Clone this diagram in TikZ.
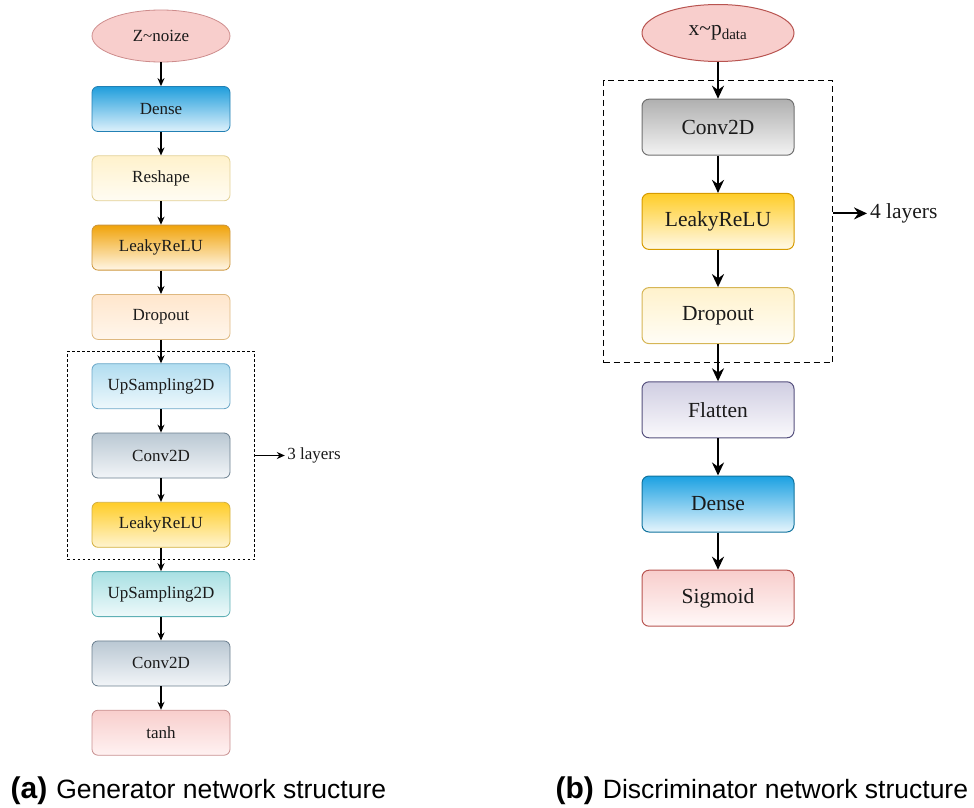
\documentclass[tikz,border=0pt]{standalone}
\usepackage{fontspec}
\setmainfont{Liberation Serif}
\newfontfamily\capfont{Liberation Sans}
\usetikzlibrary{arrows.meta}
\usetikzlibrary{shapes.geometric}
\usetikzlibrary{positioning}
\usetikzlibrary{fit}

\definecolor{txt}{HTML}{1A1A1A}
\definecolor{redfill}{HTML}{F8CECC}
\definecolor{redline}{HTML}{B85450}

\begin{document}
\begin{tikzpicture}[x=1pt,y=1pt,->,>={Stealth[length=8pt,width=7pt]},
line width=1.2pt,text=txt]
\tikzstyle{seed}=[ellipse,fill=redfill,draw=redline,line width=0.8pt,inner sep=0pt]
\tikzstyle{gblk}=[rectangle,rounded corners=6pt,minimum width=138pt,minimum height=45pt,
  inner sep=0pt,line width=0.8pt,font=\fontsize{17}{20}\selectfont]
\tikzstyle{dblk}=[rectangle,rounded corners=7pt,minimum width=152pt,minimum height=56pt,
  inner sep=0pt,line width=1pt,font=\fontsize{21.5}{24}\selectfont]
\tikzstyle{loop}=[draw,dashed,rectangle,inner sep=0pt]
\tikzstyle{dense}=[top color={rgb,255:red,32;green,158;blue,220},bottom color={rgb,255:red,222;green,241;blue,251},draw={rgb,255:red,34;green,128;blue,180}]
\tikzstyle{reshape}=[top color={rgb,255:red,255;green,242;blue,204},bottom color={rgb,255:red,255;green,252;blue,243},draw={rgb,255:red,226;green,208;blue,150}]
\tikzstyle{leakyo}=[top color={rgb,255:red,240;green,163;blue,10},bottom color={rgb,255:red,255;green,246;blue,230},draw={rgb,255:red,205;green,150;blue,60}]
\tikzstyle{dropo}=[top color={rgb,255:red,255;green,230;blue,204},bottom color={rgb,255:red,255;green,246;blue,236},draw={rgb,255:red,222;green,184;blue,128}]
\tikzstyle{upblue}=[top color={rgb,255:red,177;green,221;blue,240},bottom color={rgb,255:red,238;green,248;blue,252},draw={rgb,255:red,108;green,168;blue,200}]
\tikzstyle{convg}=[top color={rgb,255:red,186;green,200;blue,211},bottom color={rgb,255:red,242;green,245;blue,248},draw={rgb,255:red,107;green,127;blue,143}]
\tikzstyle{leakyy}=[top color={rgb,255:red,255;green,205;blue,40},bottom color={rgb,255:red,255;green,244;blue,208},draw={rgb,255:red,212;green,176;blue,64}]
\tikzstyle{upcyan}=[top color={rgb,255:red,168;green,224;blue,227},bottom color={rgb,255:red,238;green,249;blue,250},draw={rgb,255:red,95;green,176;blue,181}]
\tikzstyle{tanhr}=[top color=redfill,bottom color={rgb,255:red,255;green,242;blue,242},draw={rgb,255:red,200;green,144;blue,144}]
\tikzstyle{convk}=[top color={rgb,255:red,176;green,176;blue,176},bottom color={rgb,255:red,243;green,243;blue,243},draw={rgb,255:red,112;green,112;blue,112}]
\tikzstyle{leakyk}=[top color={rgb,255:red,255;green,205;blue,40},bottom color={rgb,255:red,255;green,249;blue,232},draw={rgb,255:red,215;green,155;blue,0}]
\tikzstyle{dropk}=[top color={rgb,255:red,255;green,242;blue,204},bottom color={rgb,255:red,255;green,253;blue,246},draw={rgb,255:red,214;green,182;blue,86}]
\tikzstyle{flatk}=[top color={rgb,255:red,208;green,206;blue,226},bottom color={rgb,255:red,250;green,249;blue,252},draw={rgb,255:red,86;green,81;blue,126}]
\tikzstyle{densek}=[top color={rgb,255:red,27;green,161;blue,226},bottom color={rgb,255:red,230;green,245;blue,252},draw={rgb,255:red,16;green,115;blue,158}]
\tikzstyle{sigk}=[top color=redfill,bottom color={rgb,255:red,255;green,248;blue,248},draw=redline]

\useasboundingbox (0,0) rectangle (974,-808);

% generator
\begin{scope}[node distance=69.3pt]
\node[seed,draw={rgb,255:red,205;green,140;blue,140},minimum width=138pt,minimum height=52pt,font=\fontsize{17}{20}\selectfont] (gin) at (161,-36) {Z\textasciitilde noize};
\node[gblk,dense]   (gdense)   at (161,-109)       {Dense};
\node[gblk,reshape] (greshape) [below of=gdense]   {Reshape};
\node[gblk,leakyo]  (gleaky)   [below of=greshape] {LeakyReLU};
\node[gblk,dropo]   (gdrop)    [below of=gleaky]   {Dropout};
\node[gblk,upblue]  (gup)      [below of=gdrop]    {UpSampling2D};
\node[gblk,convg]   (gconv)    [below of=gup]      {Conv2D};
\node[gblk,leakyy]  (gleaky2)  [below of=gconv]    {LeakyReLU};
\node[gblk,upcyan]  (gup2)     [below of=gleaky2]  {UpSampling2D};
\node[gblk,convg]   (gconv2)   [below of=gup2]     {Conv2D};
\node[gblk,tanhr]   (gtanh)    [below of=gconv2]   {tanh};
\end{scope}

\node[loop,line width=0.8pt,dash pattern=on 2.5pt off 2.5pt,fit=(gup)(gleaky2),
  inner xsep=24pt,inner ysep=12pt] (gloop) {};
\node[right=30pt of gloop,inner sep=2pt,font=\fontsize{17}{20}\selectfont] (glayers) {3 layers};

\path (gin) edge (gdense)
(gdense) edge (greshape)
(greshape) edge (gleaky)
(gleaky) edge (gdrop)
(gdrop) edge (gup)
(gup) edge (gconv)
(gconv) edge (gleaky2)
(gleaky2) edge (gup2)
(gup2) edge (gconv2)
(gconv2) edge (gtanh)
(gloop) edge (glayers);

% discriminator
\begin{scope}[node distance=94.2pt,>={Stealth[length=13pt,width=12pt]},line width=2pt]
\node[seed,minimum width=152pt,minimum height=57pt,line width=1pt,font=\fontsize{21.5}{24}\selectfont] (din) at (718,-33) {x\textasciitilde p\textsubscript{data}};
\node[dblk,convk]  (dconv)  [below of=din]    {Conv2D};
\node[dblk,leakyk] (dleaky) [below of=dconv]  {LeakyReLU};
\node[dblk,dropk]  (ddrop)  [below of=dleaky] {Dropout};
\node[dblk,flatk]  (dflat)  [below of=ddrop]  {Flatten};
\node[dblk,densek] (ddense) [below of=dflat]  {Dense};
\node[dblk,sigk]   (dsig)   [below of=ddense] {Sigmoid};

\node[loop,line width=1pt,dash pattern=on 6pt off 4pt,fit=(dconv)(ddrop),
  inner xsep=38pt,inner ysep=18.5pt] (dloop) {};
\node[right=34pt of dloop.east,yshift=8pt,inner sep=2pt,font=\fontsize{21.5}{24}\selectfont] (dlayers) {4 layers};

\path (din) edge (dconv)
(dconv) edge (dleaky)
(dleaky) edge (ddrop)
(ddrop) edge (dflat)
(dflat) edge (ddense)
(ddense) edge (dsig);
\draw (dlayers.west -| dloop.east) -- (dlayers);
\end{scope}

% captions
\node[anchor=base west,inner sep=0pt,text=black] (capa) at (10,-798)
  {\capfont\fontsize{30}{32}\selectfont\bfseries (a)\hspace{9pt}\fontsize{26.5}{30}\selectfont\mdseries Generator network structure};
\node[anchor=base west,inner sep=0pt,text=black] (capb) at (555,-798)
  {\capfont\fontsize{30}{32}\selectfont\bfseries (b)\hspace{9pt}\fontsize{26.5}{30}\selectfont\mdseries Discriminator network structure};
\end{tikzpicture}
\end{document}
